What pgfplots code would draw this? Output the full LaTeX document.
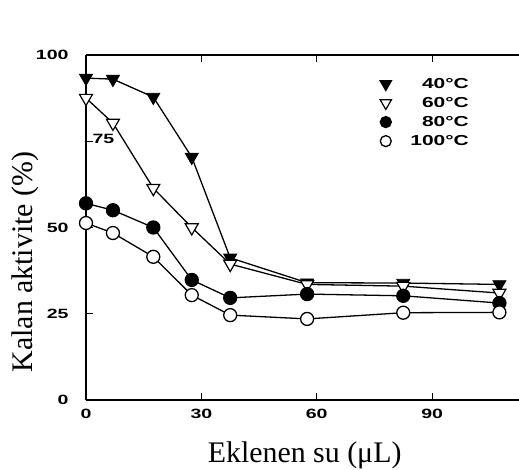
\documentclass[border=0pt]{standalone}
\usepackage{fontspec}
\setmainfont{Liberation Serif}
\setsansfont{Liberation Sans}
\newfontfamily\tickfont[FakeStretch=1.45]{Liberation Sans}
\usepackage{pgfplots}
\pgfplotsset{compat=1.18}
\begin{document}
\begin{tikzpicture}[x=1bp,y=1bp]
\useasboundingbox (0,0) rectangle (519,470);
\begin{axis}[
  at={(86bp,70bp)}, anchor=south west,
  scale only axis, width=433bp, height=345bp,
  xmin=0, xmax=112.6, ymin=0, ymax=100,
  axis x line*=box, axis y line*=left,
  axis line style={line width=2pt},
  xtick={0,30,60,90}, ytick={0,25,50,100},
  extra y ticks={75},
  extra y tick style={yticklabel style={anchor=west, xshift=17bp, yshift=2bp}},
  tick align=inside, major tick length=7bp,
  tick style={line width=1.2pt, black},
  /pgf/number format/assume math mode=true,
  ticklabel style={font=\tickfont\bfseries\fontsize{13.5}{15}\selectfont},
  yticklabel style={xshift=-14bp},
  xticklabel style={yshift=-6bp},
  xlabel={Eklenen su (μL)},
  ylabel={Kalan aktivite (\%)},
  label style={font=\fontsize{30}{34}\selectfont},
  xlabel style={at={(axis description cs:0.505,-0.18)}, anchor=base},
  ylabel style={at={(axis description cs:-0.141,0.40)}, anchor=center, rotate=0},
  legend style={draw=none, fill=none, at={(axis description cs:0.672,0.945)}, anchor=north west,
    font=\tickfont\bfseries\fontsize{14.5}{15}\selectfont, row sep=3.5bp,
    /tikz/every odd column/.append style={column sep=17bp}},
  legend cell align=right,
  every axis plot/.append style={black, line width=1.3pt},
  clip=false,
]
\addlegendimage{only marks, black, mark=triangle*, mark size=6.5bp, mark options={rotate=180, fill=black}}
\addlegendentry{40°C}
\addlegendimage{only marks, black, mark=triangle*, mark size=6.5bp, mark options={rotate=180, fill=white, line width=1.2pt}}
\addlegendentry{60°C}
\addlegendimage{only marks, black, mark=*, mark size=5.5bp, mark options={fill=black}}
\addlegendentry{80°C}
\addlegendimage{only marks, black, mark=*, mark size=5.5bp, mark options={fill=white, line width=1.3pt}}
\addlegendentry{100°C}
\addplot[forget plot, mark=triangle*, mark size=7.5bp, mark options={rotate=180, fill=black, line width=0.8pt}] coordinates {
(0,93.3) (7,93) (17.5,87.8) (27.5,70.4) (37.5,41.2) (57.5,34) (82.5,33.9) (107.5,33.5)};
\addplot[forget plot, mark=triangle*, mark size=7.5bp, mark options={rotate=180, fill=white, line width=1.2pt}] coordinates {
(0,87.5) (7,80.3) (17.5,61.4) (27.5,50) (37.5,39.4) (57.5,33.5) (82.5,33) (107.5,31)};
\addplot[forget plot, mark=*, mark size=6.5bp, mark options={fill=black}] coordinates {
(0,57) (7,55) (17.5,50) (27.5,34.8) (37.5,29.6) (57.5,30.7) (82.5,30.2) (107.5,28.1)};
\addplot[forget plot, mark=*, mark size=6.5bp, mark options={fill=white, line width=1.3pt}] coordinates {
(0,51.3) (7,48.4) (17.5,41.5) (27.5,30.4) (37.5,24.6) (57.5,23.5) (82.5,25.3) (107.5,25.4)};
\end{axis}
\end{tikzpicture}
\end{document}
